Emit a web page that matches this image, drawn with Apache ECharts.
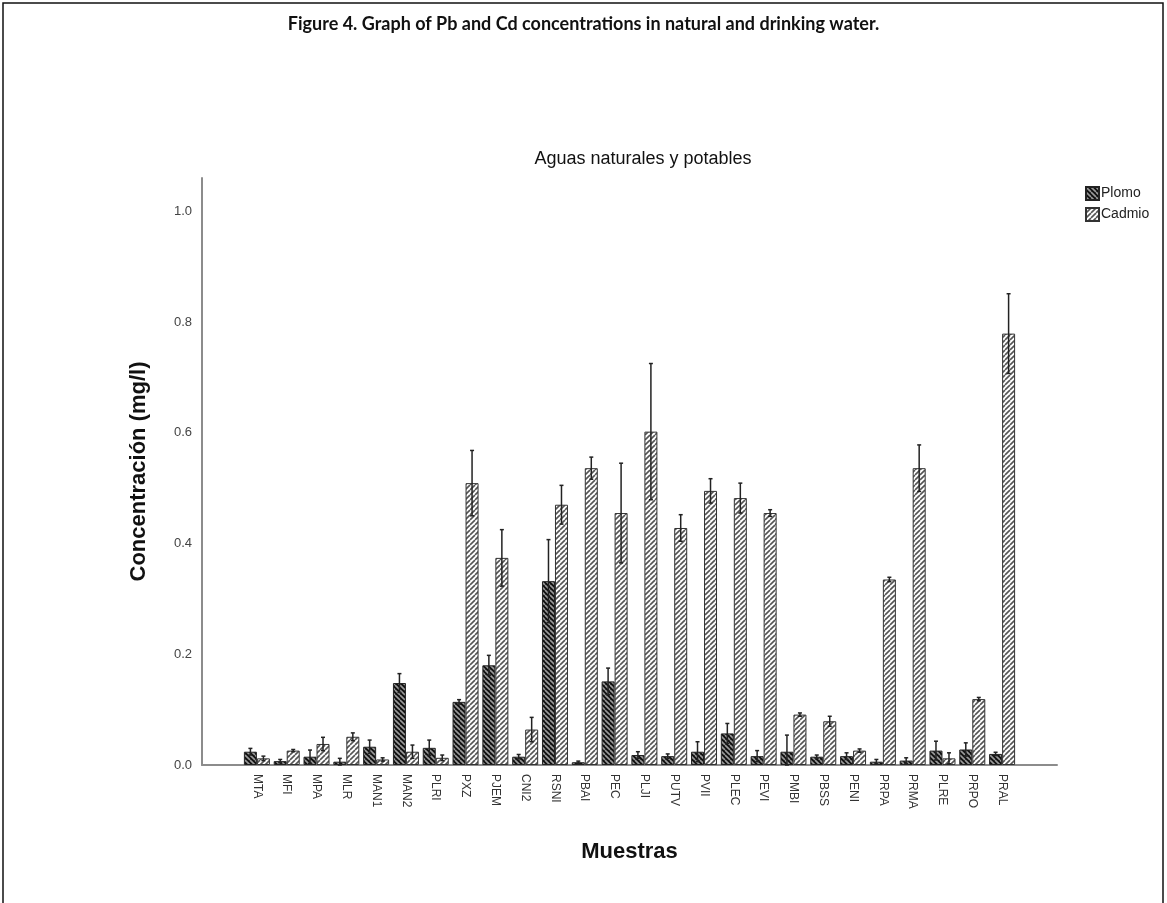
<!DOCTYPE html>
<html>
<head>
<meta charset="utf-8">
<script src="https://cdn.jsdelivr.net/npm/echarts@6/dist/echarts.min.js"></script>
<style>
  html, body { margin: 0; padding: 0; background: #fff; }
  #chart { width: 1167px; height: 903px; }
</style>
</head>
<body>
<div id="chart"></div>
<script>
// sample codes along the x axis
const muestras = ["MTA", "MFI", "MPA", "MLR", "MAN1", "MAN2", "PLRI", "PXZ", "PJEM", "CNI2",
  "RSNI", "PBAI", "PEC", "PLJI", "PUTV", "PVII", "PLEC", "PEVI", "PMBI", "PBSS",
  "PENI", "PRPA", "PRMA", "PLRE", "PRPO", "PRAL"];

// mean concentrations (mg/l)
const plomo = [0.024, 0.007, 0.015, 0.006, 0.033, 0.148, 0.031, 0.114, 0.180, 0.015,
  0.332, 0.005, 0.151, 0.018, 0.016, 0.024, 0.057, 0.016, 0.024, 0.015,
  0.016, 0.006, 0.008, 0.026, 0.028, 0.020];
const cadmio = [0.012, 0.026, 0.038, 0.051, 0.010, 0.024, 0.013, 0.509, 0.374, 0.064,
  0.470, 0.536, 0.455, 0.602, 0.428, 0.495, 0.482, 0.455, 0.091, 0.079,
  0.026, 0.335, 0.536, 0.012, 0.119, 0.779];

// half-length of the error bars
const plomoErr = [0.006, 0.003, 0.012, 0.006, 0.012, 0.017, 0.014, 0.004, 0.018, 0.004,
  0.075, 0.002, 0.024, 0.006, 0.004, 0.018, 0.018, 0.010, 0.030, 0.003,
  0.006, 0.004, 0.005, 0.017, 0.012, 0.003];
const cadmioErr = [0.004, 0.002, 0.012, 0.007, 0.003, 0.012, 0.005, 0.059, 0.051, 0.022,
  0.035, 0.020, 0.090, 0.123, 0.024, 0.022, 0.027, 0.006, 0.003, 0.009,
  0.003, 0.004, 0.042, 0.010, 0.003, 0.072];

const yTicks = [0, 0.2, 0.4, 0.6, 0.8, 1.0];

// hatch fills like the SPSS output
function hatch(bg, fg, back) {
  const s = 5;
  const c = document.createElement("canvas");
  c.width = s; c.height = s;
  const ctx = c.getContext("2d");
  ctx.fillStyle = bg;
  ctx.fillRect(0, 0, s, s);
  ctx.strokeStyle = fg;
  ctx.lineWidth = 1.6;
  for (let k = -1; k <= 1; k++) {
    ctx.beginPath();
    if (back) {
      ctx.moveTo(k * s, 0); ctx.lineTo(k * s + s, s);
    } else {
      ctx.moveTo(k * s, s); ctx.lineTo(k * s + s, 0);
    }
    ctx.stroke();
  }
  return { image: c, repeat: "repeat" };
}

const plomoFill = hatch("#111", "#9a9a9a", true);
const cadmioFill = hatch("#fff", "#555", false);

const BAR_W = 13;
const Y_MAX = 1.06;

function errorSeries(name, vals, errs, dx) {
  return {
    name: name + " err",
    type: "custom",
    xAxisIndex: 1,
    yAxisIndex: 1,
    silent: true,
    z: 5,
    data: vals.map((v, i) => [i, v, errs[i]]),
    renderItem: (params, api) => {
      const i = api.value(0);
      const v = api.value(1);
      const e = api.value(2);
      const top = api.coord([i, v + e]);
      const bot = api.coord([i, Math.max(v - e, 0)]);
      const x = top[0] + dx;
      const cap = 2;
      const style = { stroke: "#222", lineWidth: 1.5 };
      return {
        type: "group",
        children: [
          { type: "line", shape: { x1: x, y1: top[1], x2: x, y2: bot[1] }, style },
          { type: "line", shape: { x1: x - cap, y1: top[1], x2: x + cap, y2: top[1] }, style },
          { type: "line", shape: { x1: x - cap, y1: bot[1], x2: x + cap, y2: bot[1] }, style },
        ],
      };
    },
  };
}

const chart = echarts.init(document.getElementById("chart"));

const option = {
  backgroundColor: "#fff",
  animation: false,
  title: [
    {
      text: "Figure 4. Graph of Pb and Cd concentrations in natural and drinking water.",
      left: "center",
      top: 10,
      textStyle: { fontFamily: "Lato", fontWeight: "bold", fontSize: 18, color: "#111" },
    },
    {
      text: "Aguas naturales y potables",
      left: 638,
      textAlign: "center",
      top: 145,
      textStyle: { fontFamily: "Liberation Sans", fontWeight: "normal", fontSize: 18, color: "#111" },
    },
  ],
  legend: {
    orient: "vertical",
    left: 1080,
    top: 181,
    itemWidth: 13,
    itemHeight: 13,
    itemGap: 6,
    icon: "rect",
    data: ["Plomo", "Cadmio"],
    textStyle: { fontFamily: "Liberation Sans", fontSize: 14, color: "#222", padding: [0, 0, 0, -3] },
  },
  graphic: [
    {
      type: "rect",
      shape: { x: 3, y: 3, width: 1160, height: 920 },
      style: { fill: "none", stroke: "#111", lineWidth: 1.5 },
      silent: true,
    },
  ],
  grid: [
    { left: 202, right: 110, top: 178, bottom: 138 },
    { left: 242, right: 150, top: 178, bottom: 138 },
  ],
  xAxis: [
    {
      gridIndex: 0,
      type: "value",
      min: 0,
      max: 1,
      axisLine: { show: true, lineStyle: { color: "#8c8c8c", width: 2 } },
      axisTick: { show: false },
      axisLabel: { show: false },
      splitLine: { show: false },
      name: "Muestras",
      nameLocation: "middle",
      nameGap: 76,
      nameTextStyle: { fontFamily: "Liberation Sans", fontWeight: "bold", fontSize: 22, color: "#111" },
    },
    {
      gridIndex: 1,
      type: "category",
      data: muestras,
      axisLine: { show: false },
      axisTick: { show: false },
      axisLabel: {
        rotate: -90,
        margin: 9,
        fontFamily: "Liberation Sans",
        fontSize: 12,
        color: "#333",
        interval: 0,
      },
    },
  ],
  yAxis: [
    {
      gridIndex: 0,
      type: "value",
      min: 0,
      max: Y_MAX,
      interval: 0.2,
      axisLine: { show: true, lineStyle: { color: "#8c8c8c", width: 2 } },
      axisTick: { show: false },
      splitLine: { show: false },
      axisLabel: {
        showMaxLabel: false,
        margin: 10,
        fontFamily: "Liberation Sans",
        fontSize: 13,
        color: "#444",
        formatter: (v) => (yTicks.some((t) => Math.abs(t - v) < 1e-6) ? v.toFixed(1) : ""),
      },
      name: "Concentración (mg/l)",
      nameLocation: "middle",
      nameGap: 52,
      nameTextStyle: { fontFamily: "Liberation Sans", fontWeight: "bold", fontSize: 22, color: "#111" },
    },
    {
      gridIndex: 1,
      type: "value",
      min: 0,
      max: Y_MAX,
      show: false,
    },
  ],
  series: [
    {
      name: "Plomo",
      type: "bar",
      xAxisIndex: 1,
      yAxisIndex: 1,
      barWidth: BAR_W,
      barGap: "0%",
      data: plomo,
      itemStyle: { color: plomoFill, borderColor: "#222", borderWidth: 1 },
    },
    {
      name: "Cadmio",
      type: "bar",
      xAxisIndex: 1,
      yAxisIndex: 1,
      barWidth: BAR_W,
      barGap: "0%",
      data: cadmio,
      itemStyle: { color: cadmioFill, borderColor: "#333", borderWidth: 1 },
    },
    errorSeries("Plomo", plomo, plomoErr, -BAR_W / 2),
    errorSeries("Cadmio", cadmio, cadmioErr, BAR_W / 2),
  ],
};

chart.setOption(option);
window.addEventListener("resize", () => chart.resize());
</script>
</body>
</html>
